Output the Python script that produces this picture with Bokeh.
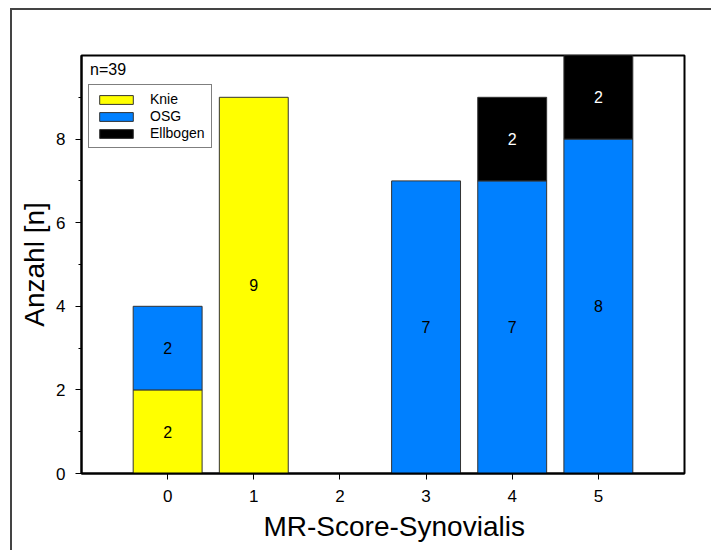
from bokeh.plotting import figure
from bokeh.models import (ColumnDataSource, Range1d, FixedTicker, Legend, LegendItem, Label, Title)
from bokeh.core.properties import value
from bokeh.embed import file_html
from bokeh.resources import INLINE

# MR synovialis score per category, counts by joint
categories = [0, 1, 2, 3, 4, 5]
knie = [2, 9, 0, 0, 0, 0]
osg = [2, 0, 0, 7, 7, 8]
ellbogen = [0, 0, 0, 0, 2, 2]
series_names = ["Knie", "OSG", "Ellbogen"]
series_colors = ["#FFFF00", "#0080FF", "#000000"]
text_colors = ["black", "black", "white"]
n_total = sum(knie) + sum(osg) + sum(ellbogen)

FONT = "Liberation Sans"

p = figure(width=701, height=542, output_backend="svg", toolbar_location=None,
           x_range=Range1d(-1, 6), y_range=Range1d(0, 10),
           min_border_left=69, min_border_top=45, min_border_right=29, min_border_bottom=79,
           margin=(8, 0, 0, 10))
p.styles = {"border-left": "2px solid #444", "border-top": "2px solid #444"}

renderers = []
bottoms = [0] * len(categories)
for name, vals, color, tcolor in zip(series_names, [knie, osg, ellbogen], series_colors, text_colors):
    xs, bot, top, lab, mid = [], [], [], [], []
    for i, c in enumerate(categories):
        v = vals[i]
        if v > 0:
            xs.append(c)
            bot.append(bottoms[i])
            top.append(bottoms[i] + v)
            lab.append(str(v))
            mid.append(bottoms[i] + v / 2)
        bottoms[i] += v
    src = ColumnDataSource(dict(x=xs, bottom=bot, top=top, label=lab, mid=mid))
    r = p.vbar(x="x", bottom="bottom", top="top", width=0.8, source=src,
               fill_color=color, line_color="#333333", line_width=1)
    p.text(x="x", y="mid", text="label", source=src, text_align="center",
           text_baseline="middle", text_color=tcolor, text_font=value(FONT),
           text_font_size="16px")
    renderers.append((name, r))

legend = Legend(items=[LegendItem(label=n, renderers=[r]) for n, r in renderers],
                location=(7, 325), orientation="vertical",
                glyph_width=42, glyph_height=11, label_height=16, spacing=1,
                padding=6, label_standoff=13, margin=0,
                label_text_font=FONT, label_text_font_size="14px",
                label_text_color="black",
                border_line_color="black", border_line_width=1,
                background_fill_alpha=1)
p.add_layout(legend)

p.add_layout(Label(x=-0.9, y=9.45, text=f"n={n_total}", text_font=FONT,
                   text_font_size="16px", text_color="black"))

# x-axis title as a panel below the axis, offset from the frame's left edge
p.add_layout(Title(text="MR-Score-Synovialis", align="left", offset=182,
                   text_font=FONT, text_font_size="28px", text_font_style="normal",
                   text_color="black", standoff=8), "below")

p.xgrid.visible = False
p.ygrid.visible = False
p.outline_line_color = "black"
p.outline_line_width = 2
p.outline_line_alpha = 1

for ax in (p.xaxis[0], p.yaxis[0]):
    ax.axis_line_width = 2
    ax.axis_line_color = "black"
    ax.major_tick_line_color = "black"
    ax.minor_tick_line_color = "black"
    ax.major_tick_in = 0
    ax.major_tick_out = 6
    ax.minor_tick_in = 0
    ax.minor_tick_out = 3
    ax.major_label_text_font = FONT
    ax.major_label_text_font_size = "17px"
    ax.major_label_text_color = "black"
    ax.axis_label_text_font = FONT
    ax.axis_label_text_font_size = "28px"
    ax.axis_label_text_font_style = "normal"
    ax.axis_label_text_color = "black"

p.xaxis.ticker = FixedTicker(ticks=categories)
p.yaxis.ticker = FixedTicker(ticks=[0, 2, 4, 6, 8], minor_ticks=[1, 3, 5, 7, 9])
p.yaxis.axis_label = "Anzahl [n]"
p.xaxis.major_label_standoff = 10
p.yaxis.major_label_standoff = 10
p.yaxis.axis_label_standoff = 3

open("out.html", "w").write(file_html(p, INLINE))
